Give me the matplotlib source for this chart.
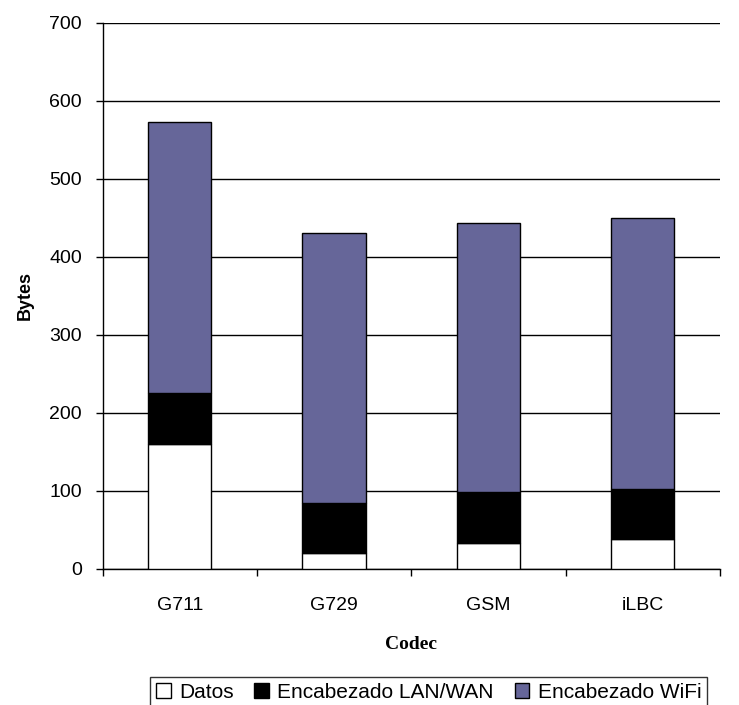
import matplotlib.pyplot as plt
import numpy as np

# values
codecs = ["G711", "G729", "GSM", "iLBC"]
datos = [160, 20, 33, 38]
lan_wan = [65, 65, 65, 65]
wifi = [347, 346, 345, 347]

plt.rcParams["font.family"] = ["Liberation Sans", "DejaVu Sans"]

fig = plt.figure(figsize=(7.39, 7.05), dpi=100)
ax = fig.add_axes([0.139, 0.193, 0.835, 0.775])

x = np.arange(len(codecs))
w = 0.41
bottom2 = np.array(datos) + np.array(lan_wan)

ax.bar(x, datos, w, color="white", edgecolor="black", linewidth=1, label="Datos", zorder=3)
ax.bar(x, lan_wan, w, bottom=datos, color="black", edgecolor="black", linewidth=1,
       label="Encabezado LAN/WAN", zorder=3)
ax.bar(x, wifi, w, bottom=bottom2, color="#666699", edgecolor="black", linewidth=1,
       label="Encabezado WiFi", zorder=3)

ax.set_ylim(0, 700)
ax.set_xlim(-0.5, len(codecs) - 0.5)
ax.set_yticks(range(0, 701, 100))
ax.yaxis.grid(True, color="black", linewidth=1)
ax.set_axisbelow(True)

ax.set_xticks(x)
ax.set_xticklabels(codecs, fontsize=14)
ax.set_xticks(np.arange(-0.5, len(codecs), 1), minor=True)
ax.tick_params(axis="x", which="major", length=0, pad=20)
ax.tick_params(axis="x", which="minor", length=5, width=1, direction="out")
ax.tick_params(axis="y", length=5, width=1, labelsize=14, pad=10)

for s in ["top", "right"]:
    ax.spines[s].set_visible(False)
ax.spines["left"].set_linewidth(1)
ax.spines["bottom"].set_linewidth(1)

ax.set_ylabel("Bytes", fontsize=13, fontweight="bold", labelpad=11)
ax.set_xlabel("Codec", fontsize=14, fontweight="bold", family="Liberation Serif", labelpad=16)

leg = fig.legend(loc="center", bbox_to_anchor=(0.58, 0.018), ncol=3, fontsize=15,
                 frameon=True, fancybox=False, edgecolor="black", handlelength=0.7,
                 handleheight=0.7, handletextpad=0.4, columnspacing=1.0,
                 borderpad=0.3, borderaxespad=0)
leg.get_frame().set_linewidth(1)

fig.savefig("out.png", dpi=100)
